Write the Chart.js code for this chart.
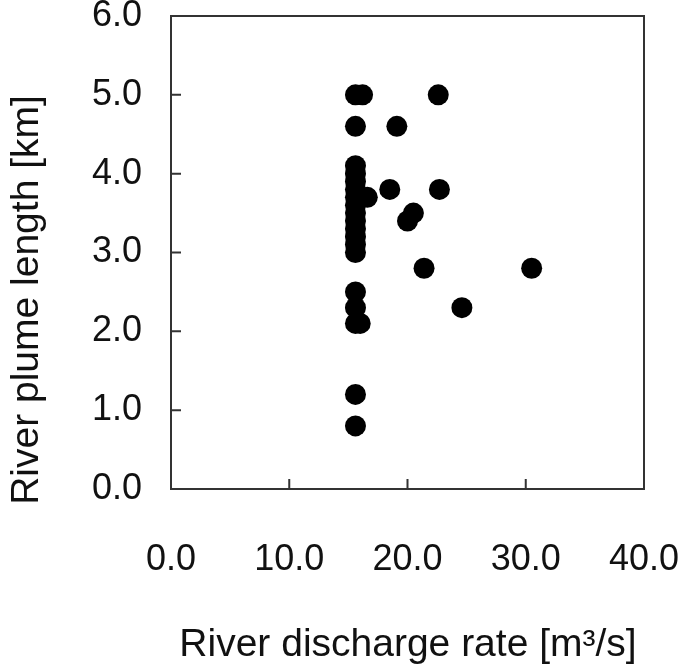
<!DOCTYPE html>
<html>
<head>
<meta charset="utf-8">
<script src="https://cdn.jsdelivr.net/npm/chart.js@4.4.1/dist/chart.umd.min.js"></script>
<style>
  html, body { margin: 0; padding: 0; background: #fff; }
  #wrap { width: 685px; height: 671px; position: relative; }
</style>
</head>
<body>
<div id="wrap"><canvas id="plume"></canvas></div>
<script>
// river discharge [m3/s] vs plume length [km]
const discharge = [
  15.6, 16.2, 22.6,
  15.6, 19.1,
  15.6, 15.6, 15.6, 15.6, 15.6, 15.6, 15.6, 15.6, 15.6, 15.6, 15.6, 15.6,
  16.6, 18.5, 22.7, 20.5, 20.0,
  21.4, 30.5, 24.6,
  15.6, 15.6, 15.6, 16.0,
  15.6, 15.6
];
const plumeLength = [
  5.0, 5.0, 5.0,
  4.6, 4.6,
  4.1, 4.0, 3.9, 3.8, 3.7, 3.6, 3.5, 3.4, 3.3, 3.2, 3.1, 3.0,
  3.7, 3.8, 3.8, 3.5, 3.4,
  2.8, 2.8, 2.3,
  2.5, 2.3, 2.1, 2.1,
  1.2, 0.8
];
const xTicks = [0, 10, 20, 30, 40];
const yTicks = [0, 1, 2, 3, 4, 5, 6];
const xTitle = "River discharge rate [m\u00b3/s]";
const yTitle = "River plume length [km]";

const FONT = "'Liberation Sans', Arial, sans-serif";
const frameColor = "#333";

// frame, inward ticks and axis titles
const framePlugin = {
  id: "frame",
  afterDraw(chart) {
    const { ctx, chartArea: a, scales } = chart;
    ctx.save();
    ctx.strokeStyle = frameColor;
    ctx.lineWidth = 2;
    ctx.strokeRect(a.left, a.top, a.right - a.left, a.bottom - a.top);
    ctx.beginPath();
    xTicks.slice(1, -1).forEach((v) => {
      const px = scales.x.getPixelForValue(v);
      ctx.moveTo(px, a.bottom);
      ctx.lineTo(px, a.bottom - 10);
    });
    yTicks.slice(1, -1).forEach((v) => {
      const py = scales.y.getPixelForValue(v);
      ctx.moveTo(a.left, py);
      ctx.lineTo(a.left + 10, py);
    });
    ctx.stroke();

    ctx.fillStyle = "#111";
    ctx.font = "39px " + FONT;
    ctx.textAlign = "center";
    ctx.textBaseline = "middle";
    ctx.fillText(xTitle, 408, 645);
    ctx.translate(27, 300);
    ctx.rotate(-Math.PI / 2);
    ctx.fillText(yTitle, 0, 0);
    ctx.restore();
  },
};

function noOverhang(s) {
  s.paddingTop = 0;
  s.paddingBottom = 0;
  s.paddingLeft = 0;
  s.paddingRight = 0;
}

const points = discharge.map((x, i) => ({ x, y: plumeLength[i] }));

new Chart(document.getElementById("plume"), {
  type: "scatter",
  data: {
    datasets: [
      {
        data: points,
        pointRadius: 10.5,
        pointHoverRadius: 10.5,
        backgroundColor: "#000",
        borderWidth: 0,
      },
    ],
  },
  options: {
    responsive: true,
    maintainAspectRatio: false,
    animation: false,
    layout: { padding: { top: 16, right: 41, left: 0, bottom: 0 } },
    plugins: { legend: { display: false }, tooltip: { enabled: false } },
    scales: {
      x: {
        type: "linear",
        min: 0,
        max: 40,
        afterBuildTicks(s) { s.ticks = xTicks.map((v) => ({ value: v })); },
        afterFit(s) { s.height = 671 - 489; noOverhang(s); },
        grid: { display: false, drawTicks: false },
        border: { display: false },
        ticks: {
          color: "#111",
          padding: 49,
          maxRotation: 0,
          font: { size: 36, family: FONT },
          callback: (v) => Number(v).toFixed(1),
        },
      },
      y: {
        type: "linear",
        min: 0,
        max: 6,
        afterBuildTicks(s) { s.ticks = yTicks.map((v) => ({ value: v })); },
        afterFit(s) { s.width = 171; noOverhang(s); },
        grid: { display: false, drawTicks: false },
        border: { display: false },
        ticks: {
          color: "#111",
          padding: 29,
          font: { size: 36, family: FONT },
          callback: (v) => Number(v).toFixed(1),
        },
      },
    },
  },
  plugins: [framePlugin],
});
</script>
</body>
</html>
